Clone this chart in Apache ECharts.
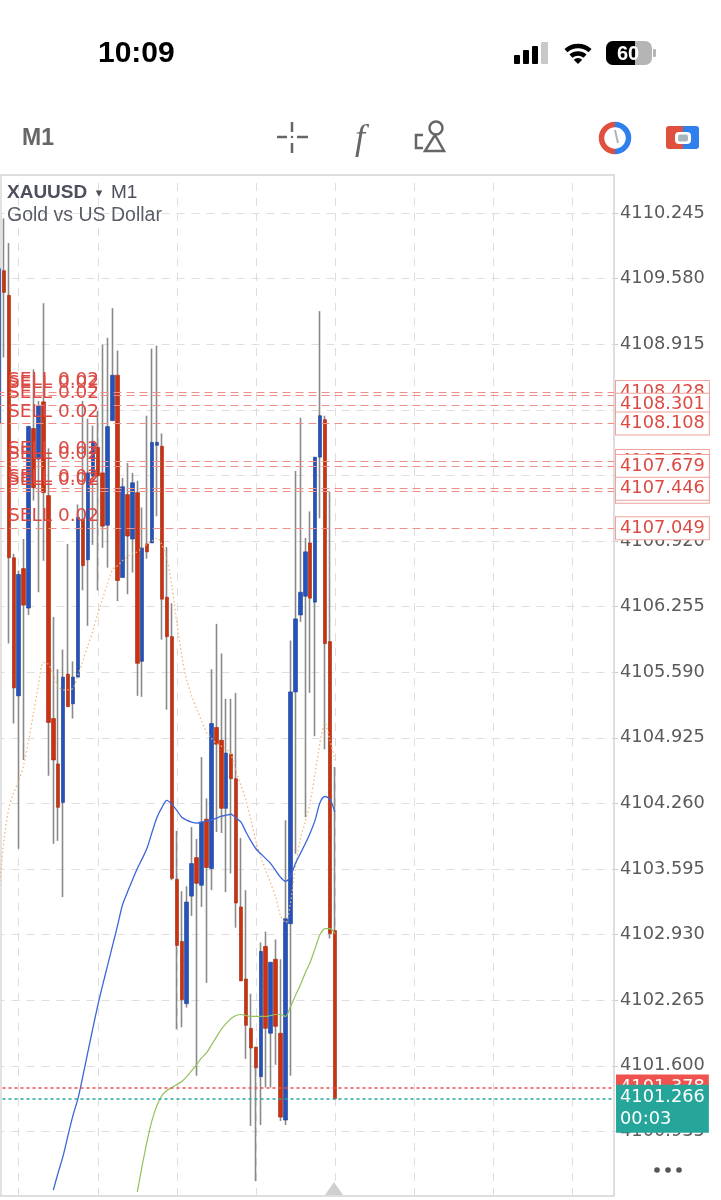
<!DOCTYPE html>
<html>
<head>
<meta charset="utf-8">
<title>XAUUSD M1</title>
<script src="https://cdn.jsdelivr.net/npm/echarts@6/dist/echarts.min.js"></script>
<style>
  html, body { margin: 0; padding: 0; background: #fff; }
  #chart { width: 721px; height: 1200px; }
</style>
</head>
<body>
<div id="chart"></div>
<script>
var opens = [4108.11,4109.66,4109.41,4106.75,4105.35,4106.64,4106.24,4108.06,4107.75,4108.33,4107.38,4105.12,4104.66,4104.27,4105.57,4105.27,4105.54,4107.14,4106.73,4107.58,4107.87,4107.61,4107.08,4108.14,4108.60,4106.55,4107.39,4106.94,4107.41,4105.70,4106.89,4106.90,4107.89,4107.88,4106.35,4105.95,4103.49,4102.86,4102.23,4103.32,4103.71,4103.43,4104.10,4103.60,4105.03,4104.90,4104.21,4104.76,4104.51,4103.21,4102.48,4101.98,4101.79,4101.49,4102.81,4101.93,4102.68,4101.93,4101.05,4103.04,4105.39,4106.17,4106.36,4106.90,4106.30,4107.77,4108.15,4105.90,4102.97];
var closes = [4109.68,4109.44,4106.75,4105.43,4106.58,4106.27,4108.08,4107.46,4108.29,4107.41,4105.08,4104.70,4104.22,4105.54,4105.24,4105.54,4107.16,4106.67,4107.61,4107.93,4107.58,4107.07,4108.08,4108.60,4106.52,4107.47,4106.97,4107.51,4105.68,4106.85,4106.81,4107.92,4107.92,4106.33,4105.95,4103.50,4102.82,4102.27,4103.26,4103.65,4103.45,4104.07,4103.61,4105.07,4104.86,4104.21,4104.77,4104.51,4103.25,4102.46,4102.01,4101.78,4101.58,4102.76,4101.98,4102.65,4102.00,4101.08,4103.09,4105.39,4106.13,4106.40,4106.81,4106.34,4107.77,4108.19,4105.88,4102.94,4101.266];
var lows = [4108.04,4108.78,4105.88,4105.07,4103.80,4104.70,4106.17,4107.33,4106.40,4106.72,4104.54,4103.85,4103.88,4103.31,4105.24,4105.12,4105.54,4106.42,4106.06,4106.88,4106.42,4106.85,4106.65,4108.14,4106.31,4106.55,4106.38,4106.60,4105.35,4105.34,4106.74,4106.90,4107.17,4105.92,4105.21,4103.48,4101.97,4101.99,4102.19,4103.12,4101.50,4103.21,4102.44,4103.38,4103.97,4103.96,4103.36,4103.55,4103.00,4102.46,4101.67,4100.99,4100.43,4101.00,4101.38,4101.38,4101.61,4101.04,4101.00,4101.50,4103.75,4106.10,4104.12,4105.38,4104.94,4107.15,4104.81,4102.89,4101.266];
var highs = [4109.97,4110.19,4109.94,4106.79,4106.62,4106.94,4108.09,4108.66,4108.34,4109.33,4107.86,4106.15,4105.62,4105.82,4106.89,4105.70,4107.29,4108.34,4108.16,4108.09,4108.24,4108.91,4108.98,4109.28,4108.85,4107.56,4107.71,4107.61,4107.53,4107.26,4108.19,4108.87,4108.90,4108.01,4106.86,4106.29,4103.98,4103.37,4103.42,4104.02,4103.90,4104.73,4104.31,4105.62,4106.08,4105.78,4105.32,4105.32,4105.38,4103.91,4103.38,4102.33,4101.79,4102.85,4102.96,4102.65,4102.88,4102.68,4104.09,4105.91,4107.63,4108.17,4106.95,4107.22,4107.77,4109.25,4108.19,4107.42,4104.63];

var maOrange = [4103.35,4103.88,4104.21,4104.37,4104.49,4104.65,4104.90,4105.18,4105.46,4105.69,4105.67,4105.56,4105.45,4105.41,4105.41,4105.43,4105.56,4105.71,4105.86,4106.01,4106.18,4106.34,4106.49,4106.63,4106.67,4106.72,4106.76,4106.79,4106.81,4106.85,4106.89,4106.92,4106.95,4106.88,4106.74,4106.47,4106.09,4105.76,4105.51,4105.35,4105.22,4105.10,4104.98,4104.92,4104.87,4104.84,4104.81,4104.75,4104.59,4104.44,4104.29,4104.09,4103.88,4103.72,4103.58,4103.45,4103.31,4103.12,4103.05,4103.25,4103.60,4103.90,4104.07,4104.27,4104.57,4104.88,4105.07,4104.90,4104.70];
var maBlue = [null,null,null,null,null,null,null,null,null,null,null,4100.34,4100.52,4100.69,4100.90,4101.10,4101.27,4101.50,4101.74,4101.98,4102.21,4102.42,4102.62,4102.82,4103.02,4103.23,4103.36,4103.48,4103.60,4103.70,4103.81,4103.97,4104.12,4104.22,4104.29,4104.25,4104.19,4104.12,4104.09,4104.07,4104.06,4104.07,4104.08,4104.09,4104.11,4104.13,4104.14,4104.15,4104.11,4104.07,4103.97,4103.88,4103.80,4103.75,4103.70,4103.65,4103.58,4103.51,4103.47,4103.52,4103.65,4103.75,4103.85,4103.96,4104.09,4104.27,4104.33,4104.30,4104.17];
var maGreen = [null,null,null,null,null,null,null,null,null,null,null,null,null,null,null,null,null,null,null,null,null,null,null,null,null,null,null,null,4100.32,4100.59,4100.84,4101.05,4101.20,4101.30,4101.35,4101.38,4101.41,4101.44,4101.49,4101.55,4101.61,4101.68,4101.73,4101.81,4101.89,4101.97,4102.03,4102.08,4102.11,4102.12,4102.11,4102.10,4102.10,4102.10,4102.10,4102.11,4102.12,4102.12,4102.10,4102.20,4102.31,4102.42,4102.54,4102.65,4102.79,4102.93,4102.99,4102.99,4102.94];

var priceTicks = [4110.245,4109.58,4108.915,4108.25,4107.585,4106.92,4106.255,4105.59,4104.925,4104.26,4103.595,4102.93,4102.265,4101.6,4100.935];
var sellPrices = [4108.40,4108.428,4108.301,4108.108,4107.733,4107.679,4107.42,4107.446,4107.049];
var sellLabel = "SELL 0.02";
var timeGridSlots = [4,20,36,52,68,84,100,116];
var askPrice = 4101.378;
var bidPrice = 4101.266;
var countdown = "00:03";
var slotCount = 125;

var LABEL_FONT = "DejaVu Sans";
var RED = "#cd3210", BLUE = "#2552bb", TAG_RED = "#dc4a44", GREY = "#666";

function range(n) {
  var out = [];
  for (var i = 0; i < n; i++) out.push(String(i));
  return out;
}

// wick layer and body layer are separate, echarts only has one border colour per candle
function wickData() {
  return opens.map(function (o, i) { return [o, closes[i], lows[i], highs[i]]; });
}
function bodyData() {
  return opens.map(function (o, i) {
    return [o, closes[i], Math.min(o, closes[i]), Math.max(o, closes[i])];
  });
}

function sellLines() {
  return sellPrices.map(function (p) { return { yAxis: p }; });
}

function sellTags() {
  return sellPrices.map(function (p) {
    return { yAxis: p, label: { formatter: p.toFixed(3) } };
  });
}

function iconGraphics() {
  var stroke = { stroke: GREY, lineWidth: 2.5, fill: null };
  function seg(x1, y1, x2, y2, style) {
    return { type: "line", shape: { x1: x1, y1: y1, x2: x2, y2: y2 }, style: style || stroke };
  }
  function ring(cx, cy, r, a, b, color, w) {
    return { type: "arc", shape: { cx: cx, cy: cy, r: r, startAngle: a, endAngle: b }, style: { stroke: color, lineWidth: w, fill: null } };
  }
  var d = Math.PI / 180;
  return [
    { type: "text", x: 98, y: 54, style: { text: "10:09", font: "bold 30px 'Liberation Sans'", fill: "#000", textVerticalAlign: "middle" } },
    // signal
    { type: "rect", shape: { x: 514, y: 55, width: 6, height: 9, r: 1 }, style: { fill: "#000" } },
    { type: "rect", shape: { x: 523, y: 50, width: 6, height: 14, r: 1 }, style: { fill: "#000" } },
    { type: "rect", shape: { x: 532, y: 46, width: 6, height: 18, r: 1 }, style: { fill: "#000" } },
    { type: "rect", shape: { x: 541, y: 42, width: 7, height: 22, r: 1 }, style: { fill: "#c8c8c8" } },
    // wifi
    ring(578, 64, 18, -132 * d, -48 * d, "#000", 4.5),
    ring(578, 64, 10.5, -132 * d, -48 * d, "#000", 4.5),
    { type: "sector", shape: { cx: 578, cy: 64, r: 6, startAngle: -135 * d, endAngle: -45 * d }, style: { fill: "#000" } },
    // battery
    { type: "rect", shape: { x: 606, y: 41, width: 46, height: 24, r: 7 }, style: { fill: "#b5b5b5" } },
    { type: "rect", shape: { x: 606, y: 41, width: 29, height: 24, r: [7, 0, 0, 7] }, style: { fill: "#000" } },
    { type: "rect", shape: { x: 653, y: 49, width: 3, height: 8, r: 1 }, style: { fill: "#b5b5b5" } },
    { type: "text", x: 628, y: 54, style: { text: "60", font: "bold 20px 'Liberation Sans'", fill: "#fff", textAlign: "center", textVerticalAlign: "middle" } },
    // toolbar
    { type: "text", x: 22, y: 139, style: { text: "M1", font: "bold 23px 'Liberation Sans'", fill: GREY, textVerticalAlign: "middle" } },
    seg(292, 122, 292, 132), seg(292, 143, 292, 153), seg(277, 137, 287, 137), seg(297, 137, 308, 137),
    { type: "circle", shape: { cx: 292, cy: 137, r: 1.3 }, style: { fill: GREY } },
    { type: "text", x: 360, y: 140, style: { text: "f", font: "italic 36px 'Liberation Serif'", fill: GREY, textAlign: "center", textVerticalAlign: "middle" } },
    { type: "circle", shape: { cx: 436, cy: 128, r: 6.5 }, style: { stroke: GREY, lineWidth: 2.5, fill: null } },
    { type: "polygon", shape: { points: [[435, 135], [444, 151], [425, 151]] }, style: { stroke: GREY, lineWidth: 2.5, fill: null } },
    { type: "polyline", shape: { points: [[423, 135], [416, 135], [416, 148], [423, 148]] }, style: stroke },
    // clock ring
    ring(615, 138, 13.5, 90 * d, 270 * d, "#e0503f", 5.5),
    ring(615, 138, 13.5, -90 * d, 90 * d, "#2f80ed", 5.5),
    seg(615, 130, 618, 143, { stroke: "#a9b4bb", lineWidth: 2 }),
    // account
    { type: "rect", shape: { x: 666, y: 126, width: 17, height: 23, r: [3, 0, 0, 3] }, style: { fill: "#e0503f" } },
    { type: "rect", shape: { x: 683, y: 126, width: 16, height: 23, r: [0, 3, 3, 0] }, style: { fill: "#2f80ed" } },
    { type: "rect", shape: { x: 675, y: 132, width: 16, height: 12, r: 4 }, style: { fill: "#fff" } },
    { type: "rect", shape: { x: 678, y: 134.5, width: 10, height: 7, r: 2 }, style: { fill: "#a9b4bb" } },
    // left edge of the plot
    seg(1, 175, 1, 1196, { stroke: "#d8d8d8", lineWidth: 1.5 }),
    // chart heading
    { type: "text", x: 7, y: 193, z: 20, style: { text: "XAUUSD", font: "bold 19px 'Liberation Sans'", fill: "#4d505c", textVerticalAlign: "middle" } },
    { type: "text", x: 99, y: 194, z: 20, style: { text: "\u25BE", font: "13px 'DejaVu Sans'", fill: "#4d505c", textAlign: "center", textVerticalAlign: "middle" } },
    { type: "text", x: 111, y: 193, z: 20, style: { text: "M1", font: "19px 'Liberation Sans'", fill: "#4d505c", textVerticalAlign: "middle" } },
    { type: "text", x: 7, y: 216, z: 20, style: { text: "Gold vs US Dollar", font: "19.5px 'Liberation Sans'", fill: "#5a5d68", textVerticalAlign: "middle" } },
    // current bar marker and menu dots
    { type: "polygon", z: 20, shape: { points: [[334, 1182], [343, 1195], [325, 1195]] }, style: { fill: "#cfcfcf" } },
    { type: "circle", shape: { cx: 657, cy: 1170, r: 2.8 }, style: { fill: "#555" } },
    { type: "circle", shape: { cx: 668, cy: 1170, r: 2.8 }, style: { fill: "#555" } },
    { type: "circle", shape: { cx: 679, cy: 1170, r: 2.8 }, style: { fill: "#555" } }
  ];
}

var chart = echarts.init(document.getElementById("chart"), null, { renderer: "canvas" });
chart.setOption({
  animation: false,
  backgroundColor: "#fff",
  graphic: iconGraphics(),
  grid: {
    left: -3.5, top: 175, width: 617.5, height: 1021,
    outerBoundsMode: "none",
    show: true, borderColor: "#d4d4d4", borderWidth: 1.5, backgroundColor: "#fff"
  },
  xAxis: {
    type: "category",
    data: range(slotCount),
    axisLine: { show: false },
    axisTick: { show: false },
    axisLabel: { show: false },
    splitLine: { show: false }
  },
  yAxis: {
    type: "value",
    position: "right",
    min: 4100.28,
    max: 4110.63,
    axisLine: { show: false },
    axisTick: { show: true, length: 4, lineStyle: { color: "#ccc" }, customValues: priceTicks },
    axisLabel: {
      customValues: priceTicks,
      margin: 6,
      color: "#5a5a5a",
      fontFamily: LABEL_FONT,
      fontSize: 17.8,
      padding: [2, 0, 0, 0],
      formatter: function (v) { return v.toFixed(3); }
    },
    splitLine: { show: true, lineStyle: { color: "#dedede", type: [8, 7], width: 1 } }
  },
  series: [
    {
      // vertical time grid
      type: "line", data: [], silent: true, z: 1,
      markLine: {
        silent: true, symbol: "none", animation: false, z: 1,
        label: { show: false },
        lineStyle: { color: "#dedede", type: [8, 7], width: 1 },
        data: timeGridSlots.map(function (s) { return { xAxis: s }; })
      }
    },
    {
      type: "candlestick", data: wickData(), barWidth: 1.2, silent: true, z: 2,
      itemStyle: { color: "#8a8a8a", color0: "#8a8a8a", borderColor: "#8a8a8a", borderColor0: "#8a8a8a", borderWidth: 1.6 }
    },
    {
      type: "candlestick", data: bodyData(), barWidth: 4, silent: true, z: 3,
      itemStyle: { color: BLUE, color0: RED, borderColor: "#1d3f92", borderColor0: "#a02a10", borderWidth: 0.6 }
    },
    { type: "line", data: maOrange, showSymbol: false, smooth: 0.3, z: 4, silent: true, lineStyle: { color: "#f0b67c", width: 1.3, type: [1.5, 2.5] } },
    { type: "line", data: maBlue, showSymbol: false, smooth: 0.3, z: 4, silent: true, lineStyle: { color: "#3c66d8", width: 1.3 } },
    { type: "line", data: maGreen, showSymbol: false, smooth: 0.3, z: 4, silent: true, lineStyle: { color: "#93c15c", width: 1.2 } },
    {
      // sell order levels
      type: "line", data: [], z: 5, silent: true,
      markLine: {
        silent: true, symbol: "none", animation: false, z: 5,
        lineStyle: { color: "#ee8f88", type: [8, 5], width: 1 },
        label: {
          position: "insideStartTop", distance: [11.5, 2],
          formatter: sellLabel, color: TAG_RED, fontFamily: LABEL_FONT, fontSize: 18.5
        },
        data: sellLines()
      }
    },
    {
      // price tags of the sell orders
      type: "line", data: [], z: 6, silent: true,
      markLine: {
        silent: true, symbol: "none", animation: false, z: 6,
        lineStyle: { color: "transparent", width: 0 },
        label: {
          position: "end", distance: [2, 0], color: TAG_RED, fontFamily: LABEL_FONT, fontSize: 17.8,
          backgroundColor: "#fff", borderColor: "#f0a39c", borderWidth: 1, padding: [2, 4]
        },
        data: sellTags()
      }
    },
    {
      type: "line", data: [], z: 7, silent: true,
      markLine: {
        silent: true, symbol: "none", animation: false, z: 7,
        lineStyle: { color: "#ee4d4d", type: [3, 3], width: 1.5 },
        label: {
          position: "end", distance: [2, 0], color: "#fff", fontFamily: LABEL_FONT, fontSize: 17.8,
          backgroundColor: "#ef5350", padding: [4, 4], formatter: askPrice.toFixed(3)
        },
        data: [{ yAxis: askPrice }]
      }
    },
    {
      type: "line", data: [], z: 8, silent: true,
      markLine: {
        silent: true, symbol: "none", animation: false, z: 8,
        lineStyle: { color: "#26a69a", type: [3, 3], width: 1.5 },
        label: { show: false },
        data: [{ yAxis: bidPrice }]
      },
      markPoint: {
        silent: true, symbol: "rect", symbolSize: 1, z: 9, itemStyle: { color: "transparent" },
        label: {
          show: true, position: "right", distance: 4, offset: [0, 10], align: "left",
          color: "#fff", fontFamily: LABEL_FONT, fontSize: 17.8, lineHeight: 22,
          backgroundColor: "#26a69a", padding: [2, 4],
          formatter: bidPrice.toFixed(3) + "\n" + countdown
        },
        data: [{ xAxis: slotCount - 1, yAxis: bidPrice }]
      }
    }
  ]
});
</script>
</body>
</html>
